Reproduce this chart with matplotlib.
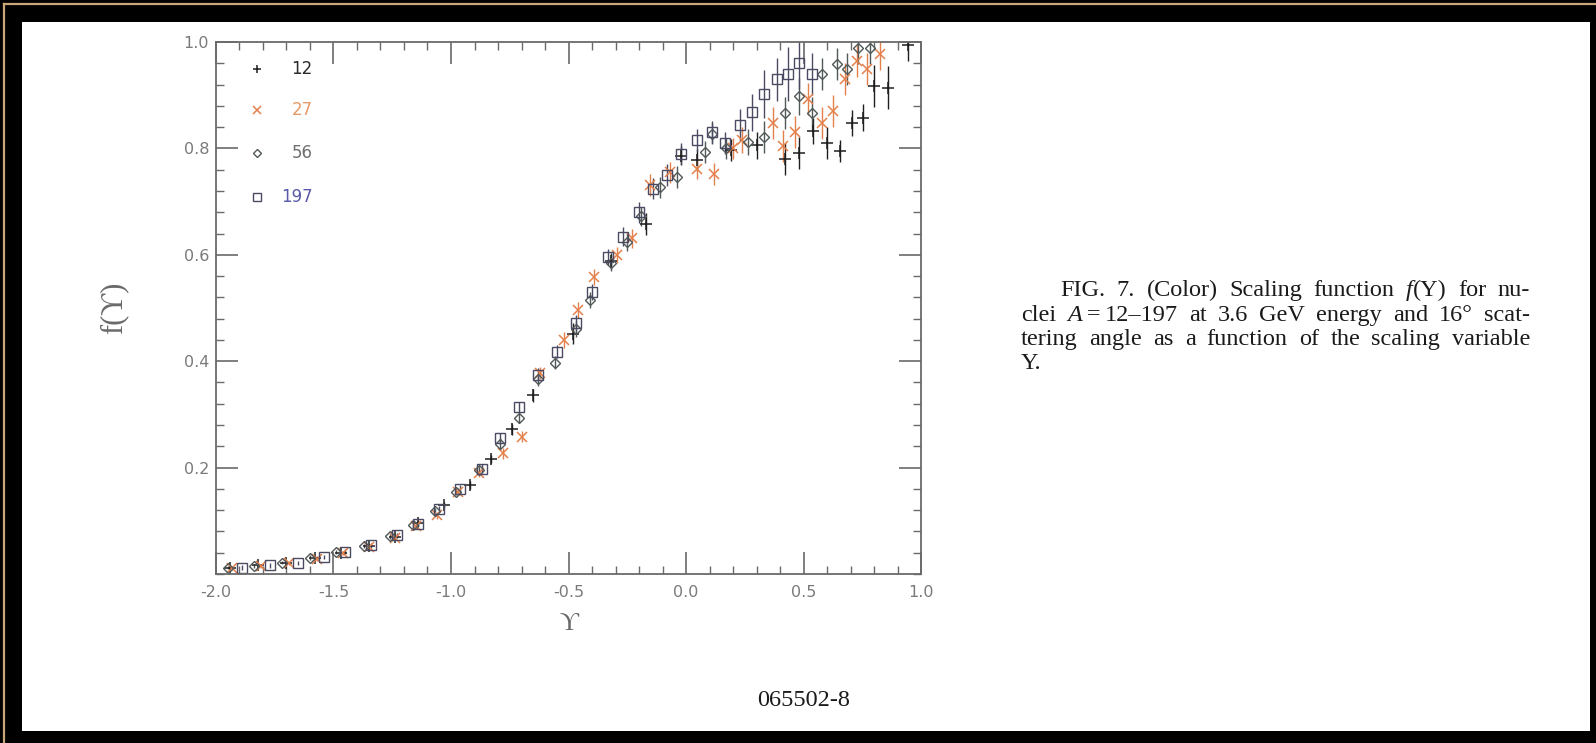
import matplotlib
matplotlib.use("Agg")
import matplotlib.pyplot as plt
from matplotlib.patches import Rectangle
from matplotlib.lines import Line2D
from matplotlib.ticker import MultipleLocator, FixedLocator

# ---- data: scaling function f(Upsilon) for four nuclei ----
ups_c12 = [-1.94, -1.82, -1.70, -1.58, -1.47, -1.35, -1.24, -1.14, -1.03, -0.92,
           -0.83, -0.74, -0.65, -0.48, -0.32, -0.17, -0.02, 0.045, 0.19, 0.30,
           0.42, 0.48, 0.54, 0.60, 0.655, 0.705, 0.754, 0.80, 0.86, 0.946]
f_c12 = [0.012, 0.016, 0.020, 0.030, 0.040, 0.052, 0.070, 0.096, 0.130, 0.167,
         0.216, 0.272, 0.336, 0.452, 0.588, 0.658, 0.786, 0.778, 0.797, 0.806,
         0.780, 0.792, 0.833, 0.811, 0.795, 0.848, 0.858, 0.917, 0.914, 0.995]
err_c12 = [0.003, 0.003, 0.003, 0.004, 0.004, 0.004, 0.005, 0.006, 0.006, 0.007,
           0.008, 0.010, 0.012, 0.020, 0.015, 0.020, 0.018, 0.020, 0.020, 0.025,
           0.030, 0.030, 0.025, 0.030, 0.020, 0.025, 0.025, 0.040, 0.040, 0.030]

ups_al27 = [-1.93, -1.81, -1.69, -1.57, -1.46, -1.35, -1.24, -1.15, -1.06, -0.97,
            -0.88, -0.78, -0.70, -0.62, -0.52, -0.46, -0.39, -0.295, -0.23, -0.155,
            -0.07, 0.045, 0.12, 0.20, 0.237, 0.37, 0.413, 0.464, 0.519, 0.577,
            0.626, 0.677, 0.726, 0.77, 0.826]
f_al27 = [0.011, 0.015, 0.020, 0.029, 0.040, 0.050, 0.068, 0.090, 0.110, 0.155,
          0.190, 0.227, 0.258, 0.378, 0.440, 0.496, 0.559, 0.600, 0.631, 0.731,
          0.755, 0.762, 0.752, 0.800, 0.816, 0.848, 0.805, 0.830, 0.893, 0.848,
          0.870, 0.930, 0.964, 0.949, 0.977]
err_al27 = [0.003, 0.003, 0.003, 0.004, 0.004, 0.004, 0.005, 0.006, 0.007, 0.007,
            0.008, 0.010, 0.010, 0.012, 0.015, 0.015, 0.015, 0.015, 0.018, 0.020,
            0.020, 0.020, 0.020, 0.020, 0.025, 0.030, 0.030, 0.030, 0.030, 0.030,
            0.030, 0.030, 0.030, 0.030, 0.030]

ups_fe56 = [-1.95, -1.84, -1.72, -1.60, -1.49, -1.37, -1.26, -1.16, -1.07, -0.98,
            -0.88, -0.79, -0.71, -0.63, -0.557, -0.47, -0.41, -0.32, -0.25, -0.19,
            -0.11, -0.04, 0.08, 0.11, 0.17, 0.264, 0.33, 0.421, 0.481, 0.535,
            0.577, 0.641, 0.684, 0.733, 0.783]
f_fe56 = [0.012, 0.015, 0.021, 0.031, 0.041, 0.052, 0.071, 0.092, 0.118, 0.155,
          0.195, 0.245, 0.293, 0.366, 0.397, 0.460, 0.515, 0.585, 0.625, 0.672,
          0.727, 0.746, 0.793, 0.828, 0.800, 0.812, 0.822, 0.867, 0.898, 0.867,
          0.940, 0.958, 0.949, 0.989, 0.989]
err_fe56 = [0.003, 0.003, 0.003, 0.004, 0.004, 0.004, 0.005, 0.005, 0.006, 0.007,
            0.008, 0.010, 0.010, 0.012, 0.012, 0.015, 0.015, 0.015, 0.018, 0.018,
            0.020, 0.020, 0.020, 0.020, 0.020, 0.025, 0.030, 0.030, 0.035, 0.030,
            0.030, 0.030, 0.030, 0.030, 0.030]

ups_au197 = [-1.89, -1.77, -1.65, -1.54, -1.45, -1.34, -1.23, -1.14, -1.05, -0.96,
             -0.87, -0.79, -0.71, -0.63, -0.55, -0.47, -0.40, -0.33, -0.27, -0.20,
             -0.14, -0.08, -0.02, 0.045, 0.11, 0.165, 0.23, 0.28, 0.33, 0.386,
             0.434, 0.481, 0.535]
f_au197 = [0.012, 0.016, 0.020, 0.032, 0.042, 0.054, 0.073, 0.094, 0.122, 0.160,
           0.198, 0.255, 0.314, 0.375, 0.418, 0.472, 0.530, 0.595, 0.634, 0.680,
           0.724, 0.750, 0.790, 0.816, 0.831, 0.810, 0.844, 0.868, 0.903, 0.930,
           0.940, 0.961, 0.940]
err_au197 = [0.004, 0.004, 0.004, 0.004, 0.005, 0.005, 0.005, 0.006, 0.006, 0.007,
             0.008, 0.010, 0.010, 0.012, 0.012, 0.015, 0.015, 0.015, 0.018, 0.020,
             0.020, 0.020, 0.020, 0.020, 0.020, 0.020, 0.030, 0.035, 0.045, 0.040,
             0.050, 0.050, 0.040]

nuclei = ["12", "27", "56", "197"]
x_ticks = [-2.0, -1.5, -1.0, -0.5, 0.0, 0.5, 1.0]
y_ticks = [0.2, 0.4, 0.6, 0.8, 1.0]

series = [
    (ups_c12, f_c12, err_c12, "+", "#1e1e1e", "#2a2a2a", dict(ms=8, mew=1.1)),
    (ups_al27, f_al27, err_al27, "x", "#e4804c", "#e39a68", dict(ms=6.5, mew=1.1)),
    (ups_fe56, f_fe56, err_fe56, "D", "#505858", "#707070", dict(ms=5, mew=1.0, mfc="none")),
    (ups_au197, f_au197, err_au197, "s", "#4a4a62", "#5a5aa8", dict(ms=6.5, mew=1.0, mfc="none")),
]

W, H = 1596, 743
fig = plt.figure(figsize=(W / 100, H / 100), dpi=100)
fig.patch.set_facecolor("black")


def px(x, y):
    """pixel position (from top-left) -> figure fraction"""
    return x / W, 1 - y / H


# white page panel on the black surround, gold rule along the top and left
fig.add_artist(Rectangle(px(22, 731), (1590 - 22) / W, (731 - 22) / H,
                         transform=fig.transFigure, facecolor="white",
                         edgecolor="none", zorder=-10))
gold = "#c8a878"
fig.add_artist(Line2D([4 / W, 1.0], [1 - 4 / H, 1 - 4 / H], transform=fig.transFigure,
                      color=gold, lw=1.6, zorder=-9))
fig.add_artist(Line2D([4 / W, 4 / W], [0.0, 1 - 4 / H], transform=fig.transFigure,
                      color=gold, lw=1.6, zorder=-9))

ax = fig.add_axes([216 / W, 1 - 574 / H, (921 - 216) / W, (574 - 42) / H])
ax.set_facecolor("white")
ax.set_xlim(-2.0, 1.0)
ax.set_ylim(0.0, 1.0)

for xs, ys, es, mk, col, lcol, mkw in series:
    ax.errorbar(xs, ys, yerr=es, fmt=mk, color=col, ecolor=col, elinewidth=1.0,
                capsize=0, **mkw)

axis_gray = "#6a6a6a"
for sp in ax.spines.values():
    sp.set_color(axis_gray)
    sp.set_linewidth(1.3)

ax.xaxis.set_major_locator(FixedLocator(x_ticks))
ax.xaxis.set_minor_locator(MultipleLocator(0.1))
ax.yaxis.set_major_locator(FixedLocator(y_ticks))
ax.yaxis.set_minor_locator(MultipleLocator(0.04))
ax.set_xticklabels([f"{v:.1f}" for v in x_ticks])
ax.set_yticklabels([f"{v:.1f}" for v in y_ticks])
ax.tick_params(which="both", direction="in", top=True, right=True,
               color=axis_gray, labelcolor="#7a7a7a")
ax.tick_params(which="major", length=16, width=1.2, labelsize=11.5)
ax.tick_params(which="minor", length=6, width=1.0)
ax.tick_params(axis="x", which="major", pad=8)
ax.tick_params(axis="y", which="major", pad=5)
for lab in ax.get_xticklabels() + ax.get_yticklabels():
    lab.set_family("DejaVu Sans")

serif = ["Liberation Serif", "DejaVu Serif"]
ax.set_xlabel("\u03d2", family=serif, fontsize=19, color="#6a6a6a", labelpad=9)
ax.set_ylabel("f(\u03d2)", family=serif, fontsize=22, color="#6a6a6a", labelpad=40)

# key in the upper-left corner
key_rows = [0.949, 0.872, 0.791, 0.709]
for (xs, ys, es, mk, col, lcol, mkw), name, yk in zip(series, nuclei, key_rows):
    ax.plot([0.058], [yk], mk, color=col, transform=ax.transAxes,
            **{k: (v * 0.8 if k == "ms" else v) for k, v in mkw.items()})
    ax.text(0.137, yk, name, transform=ax.transAxes, ha="right", va="center",
            fontsize=12, color=lcol, family="DejaVu Sans")

# caption, set as a justified paragraph
cap_size = 17.5
cap_color = "#1a1a1a"
caption_lines = [
    ([[("FIG.", {})], [("7.", {})], [("(Color)", {})], [("Scaling", {})],
      [("function", {})], [("f", {"style": "italic"}), ("(\u03a5)", {})],
      [("for", {})], [("nu-", {})]], 1060, 1530, 296, True),
    ([[("clei", {})], [("A", {"style": "italic"}), ("\u2009=\u2009", {}), ("12\u2013197", {})],
      [("at", {})], [("3.6", {})], [("GeV", {})], [("energy", {})], [("and", {})],
      [("16\u00b0", {})], [("scat-", {})]], 1021, 1530, 320.5, True),
    ([[("tering", {})], [("angle", {})], [("as", {})], [("a", {})], [("function", {})],
      [("of", {})], [("the", {})], [("scaling", {})], [("variable", {})]], 1021, 1530, 345, True),
    ([[("\u03a5.", {})]], 1021, 1530, 369.5, False),
]

renderer = fig.canvas.get_renderer()
for words, x0, x1, ybase, just in caption_lines:
    made = []
    total = 0.0
    for word in words:
        runs = []
        wlen = 0.0
        for s, kw in word:
            t = fig.text(0, 0, s, fontsize=cap_size, color=cap_color,
                         family=serif, va="baseline", ha="left", **kw)
            w = t.get_window_extent(renderer).width
            runs.append((t, w))
            wlen += w
        made.append((runs, wlen))
        total += wlen
    if just and len(made) > 1:
        gap = (x1 - x0 - total) / (len(made) - 1)
    else:
        gap = cap_size * 1.389 * 0.25
    xc = x0
    for runs, wlen in made:
        for t, w in runs:
            t.set_position(px(xc, ybase))
            xc += w
        xc += gap

fig.text(*px(804, 706), "065502-8", fontsize=cap_size, color=cap_color,
         family=serif, ha="center", va="baseline")

fig.savefig("out.png", dpi=100, facecolor=fig.get_facecolor())
